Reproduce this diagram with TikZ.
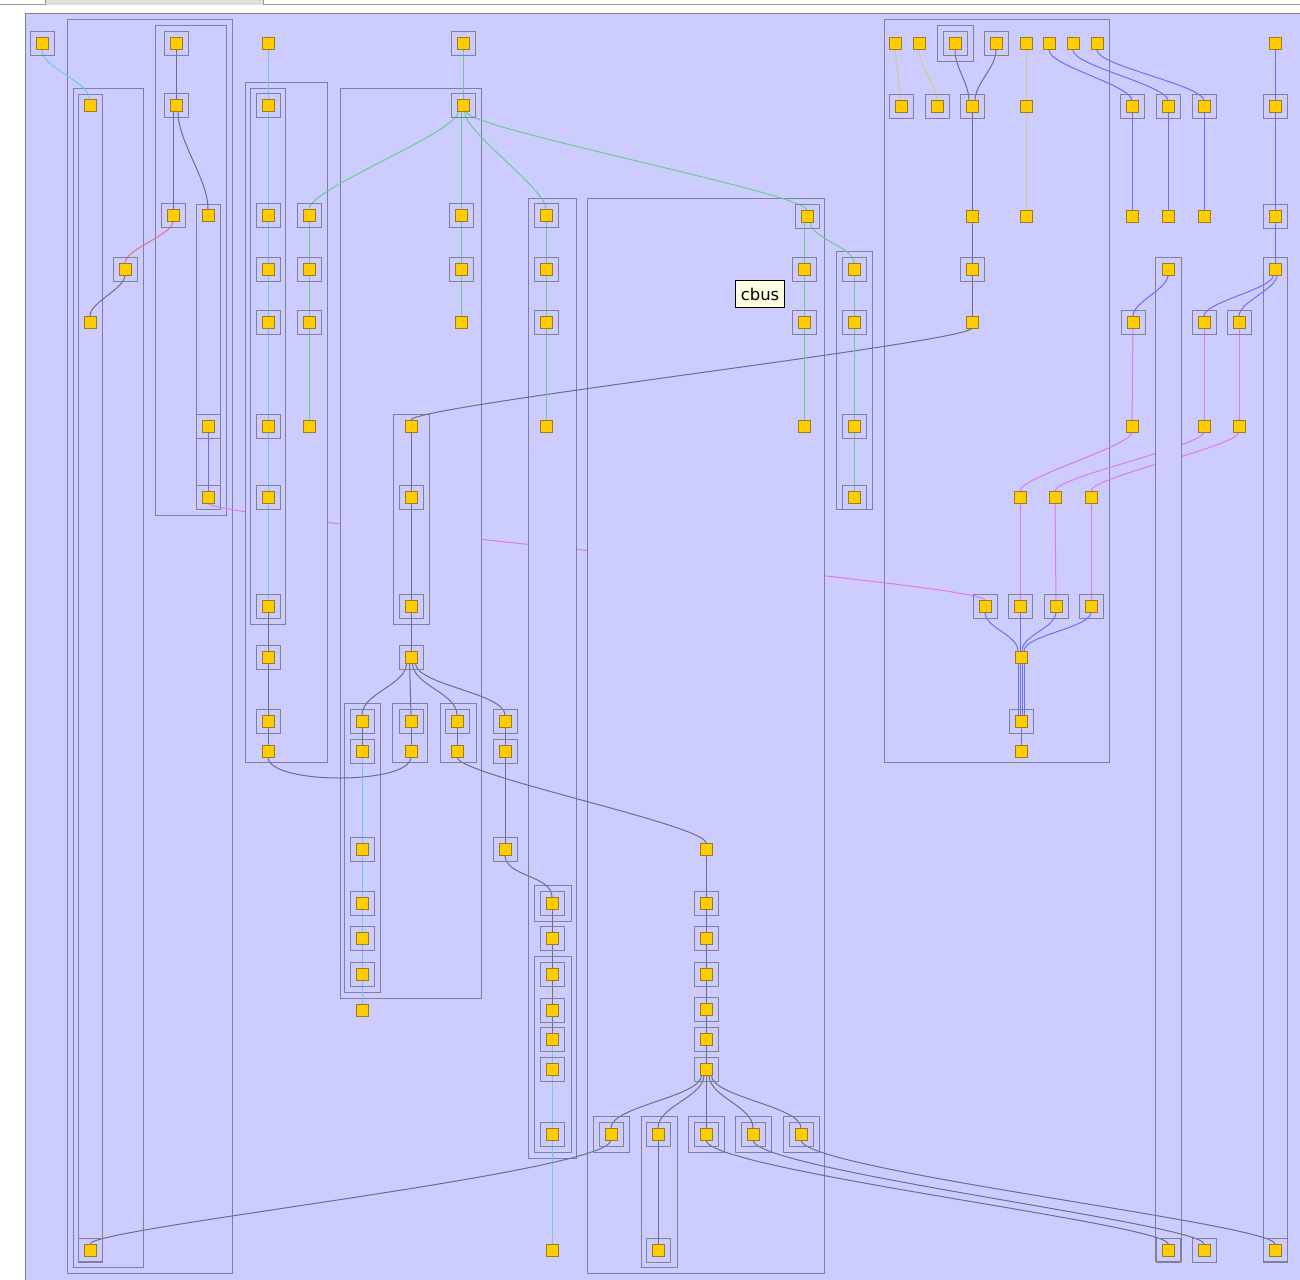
\documentclass[tikz,border=0pt]{standalone}
\usepackage{fontspec}
\newfontfamily\tipfont{DejaVu Sans}
\usetikzlibrary{positioning,calc}
\definecolor{lav}{HTML}{CCCCFF}
\definecolor{frm}{HTML}{80809A}
\definecolor{gold}{HTML}{FFCC00}
\definecolor{goldline}{HTML}{9A7D1A}
\definecolor{ed}{HTML}{6E6E88}
\definecolor{sky}{HTML}{72C6EE}
\definecolor{grn}{HTML}{6CCB8E}
\definecolor{rose}{HTML}{E0708C}
\definecolor{mag}{HTML}{DE78EE}
\definecolor{blu}{HTML}{6E6EF4}
\definecolor{kha}{HTML}{CCCC88}
\definecolor{tip}{HTML}{FFFFE1}
\pgfdeclarelayer{back}
\pgfdeclarelayer{low}
\pgfdeclarelayer{mid}
\pgfdeclarelayer{wires}
\pgfsetlayers{back,low,mid,wires,main}

\begin{document}
\begin{tikzpicture}[x=0.5pt,y=-0.5pt,
	sq/.style={draw=goldline, fill=gold, line width=0.5pt, minimum size=6pt, inner sep=0pt, outer sep=0pt},
	ring/.style={draw=frm, line width=0.5pt, minimum size=#1, inner sep=0pt, outer sep=0pt},
	fsq/.style={sq, label={[ring=12pt]center:}},
	ffsq/.style={sq, label={[ring=12pt]center:}, label={[ring=18pt]center:}},
	grp/.style={draw=frm, fill=lav, line width=0.5pt},
	wire/.style={line width=0.5pt, draw=#1},
	sp/.style={to path={.. controls +(0,#1) and +(0,-#1) .. (\tikztotarget)}},
	sp/.default=14,
	tipbox/.style={draw=black, line width=0.7pt, fill=tip, minimum width=24.5pt,
		minimum height=13.5pt, inner sep=0pt, font=\tipfont\fontsize{8.2}{9}\selectfont}
]
	\useasboundingbox (0,0) rectangle (1300,1279);
	\clip (0,0) rectangle (1300,1279);

	% left block
	\node[fsq] (l0) at (42,44) {};
	\node[sq] (l1) at (90,106) {};
	\node[fsq] (l2) at (176,44) {};
	\node[fsq] (l3) at (176,106) {};
	\node[fsq] (l4) at (173,215) {};
	\node[sq] (l5) at (208,215) {};
	\node[fsq] (l6) at (125,269) {};
	\node[sq] (l7) at (90,322) {};
	\node[fsq] (l8) at (208,426) {};
	\node[fsq] (l9) at (208,497) {};
	\node[fsq] (l10) at (90,1250) {};

	% column at 268 / 309
	\node[sq] (g0) at (268,44) {};
	\node[fsq] (g1) at (268,106) {};
	\node[fsq] (g2) at (268,215) {};
	\node[fsq] (g3) at (268,269) {};
	\node[fsq] (g4) at (268,322) {};
	\node[fsq] (g5) at (268,426) {};
	\node[fsq] (g6) at (268,497) {};
	\node[fsq] (g7) at (268,606) {};
	\node[fsq] (g8) at (268,657) {};
	\node[fsq] (g9) at (268,721) {};
	\node[sq] (g10) at (268,751) {};
	\node[fsq] (h1) at (309,215) {};
	\node[fsq] (h2) at (309,269) {};
	\node[fsq] (h3) at (309,322) {};
	\node[sq] (h4) at (309,426) {};

	% middle block
	\node[fsq] (m0) at (463,44) {};
	\node[fsq] (m1) at (463,106) {};
	\node[fsq] (m2) at (461,215) {};
	\node[fsq] (m3) at (461,269) {};
	\node[sq] (m4) at (461,322) {};
	\node[sq] (k1) at (411,426) {};
	\node[fsq] (k2) at (411,497) {};
	\node[fsq] (k3) at (411,606) {};
	\node[fsq] (k4) at (411,657) {};
	\node[fsq] (p1) at (362,721) {};
	\node[fsq] (p2) at (362,751) {};
	\node[fsq] (p3) at (362,849) {};
	\node[fsq] (p4) at (362,903) {};
	\node[fsq] (p5) at (362,938) {};
	\node[fsq] (p6) at (362,974) {};
	\node[sq] (p7) at (362,1010) {};
	\node[fsq] (q1) at (411,721) {};
	\node[sq] (q2) at (411,751) {};
	\node[fsq] (r1) at (457,721) {};
	\node[sq] (r2) at (457,751) {};
	\node[fsq] (s1) at (505,721) {};
	\node[fsq] (s2) at (505,751) {};
	\node[fsq] (s3) at (505,849) {};

	% column at 546
	\node[fsq] (i1) at (546,215) {};
	\node[fsq] (i2) at (546,269) {};
	\node[fsq] (i3) at (546,322) {};
	\node[sq] (i4) at (546,426) {};
	\node[fsq] (i5) at (552,903) {};
	\node[fsq] (i6) at (552,938) {};
	\node[fsq] (i7) at (552,974) {};
	\node[fsq] (i8) at (552,1010) {};
	\node[fsq] (i9) at (552,1039) {};
	\node[fsq] (i10) at (552,1069) {};
	\node[fsq] (i11) at (552,1134) {};
	\node[sq] (i12) at (552,1250) {};

	% wide block
	\node[fsq] (j1) at (807,216) {};
	\node[fsq] (j2) at (804,269) {};
	\node[fsq] (j3) at (804,322) {};
	\node[sq] (j4) at (804,426) {};
	\node[fsq] (t1) at (854,269) {};
	\node[fsq] (t2) at (854,322) {};
	\node[fsq] (t3) at (854,426) {};
	\node[fsq] (t4) at (854,497) {};
	\node[sq] (u0) at (706,849) {};
	\node[fsq] (u1) at (706,903) {};
	\node[fsq] (u2) at (706,938) {};
	\node[fsq] (u3) at (706,974) {};
	\node[fsq] (u4) at (706,1009) {};
	\node[fsq] (u5) at (706,1039) {};
	\node[fsq] (u6) at (706,1069) {};
	\node[ffsq] (v1) at (611,1134) {};
	\node[fsq] (v2) at (658,1134) {};
	\node[fsq] (v3) at (658,1250) {};
	\node[ffsq] (v4) at (706,1134) {};
	\node[ffsq] (v5) at (753,1134) {};
	\node[ffsq] (v6) at (801,1134) {};
	\node[tipbox] (tip) at (760,294) {cbus};

	% right block
	\node[sq] (w1) at (895,44) {};
	\node[sq] (w2) at (919,44) {};
	\node[ffsq] (w3) at (955,44) {};
	\node[fsq] (w4) at (996,44) {};
	\node[sq] (w5) at (1026,44) {};
	\node[sq] (w6) at (1049,44) {};
	\node[sq] (w7) at (1073,44) {};
	\node[sq] (w8) at (1097,44) {};
	\node[fsq] (x1) at (901,107) {};
	\node[fsq] (x2) at (937,107) {};
	\node[fsq] (x3) at (972,107) {};
	\node[sq] (x4) at (1026,107) {};
	\node[sq] (x5) at (972,216) {};
	\node[sq] (x6) at (1026,216) {};
	\node[fsq] (x7) at (972,269) {};
	\node[sq] (x8) at (972,322) {};
	\node[sq] (y1) at (1020,497) {};
	\node[sq] (y2) at (1055,497) {};
	\node[sq] (y3) at (1091,497) {};
	\node[fsq] (z1) at (985,606) {};
	\node[fsq] (z2) at (1020,606) {};
	\node[fsq] (z3) at (1056,606) {};
	\node[fsq] (z4) at (1091,606) {};
	\node[sq] (z5) at (1021,657) {};
	\node[fsq] (z6) at (1021,721) {};
	\node[sq] (z7) at (1021,751) {};

	% far right
	\node[fsq] (c1) at (1132,107) {};
	\node[fsq] (c2) at (1168,107) {};
	\node[fsq] (c3) at (1204,107) {};
	\node[sq] (c4) at (1275,44) {};
	\node[fsq] (c5) at (1275,107) {};
	\node[sq] (c6) at (1132,216) {};
	\node[sq] (c7) at (1168,216) {};
	\node[sq] (c8) at (1204,216) {};
	\node[fsq] (c9) at (1275,216) {};
	\node[sq] (d1) at (1168,269) {};
	\node[sq] (d2) at (1275,269) {};
	\node[fsq] (d3) at (1133,322) {};
	\node[fsq] (d4) at (1204,322) {};
	\node[fsq] (d5) at (1239,322) {};
	\node[sq] (d6) at (1132,426) {};
	\node[sq] (d7) at (1204,426) {};
	\node[sq] (d8) at (1239,426) {};
	\node[fsq] (e1) at (1168,1250) {};
	\node[fsq] (e2) at (1204,1250) {};
	\node[fsq] (e3) at (1275,1250) {};

	\begin{pgfonlayer}{back}
		% window strip and canvas
		\fill[white] (0,0) rectangle (1300,1279);
		\fill[black!12] (45,0) rectangle (263,5);
		\draw[black!40, line width=0.5pt] (0,4.5) -- (45,4.5) -- (45,0);
		\draw[black!40, line width=0.5pt] (263,0) -- (263,4.5) -- (1300,4.5);
		\fill[lav] (25,14) rectangle (1310,1290);
		\draw[black!50, line width=0.5pt] (25,1290) -- (25,14) -- (1310,14);
		\draw[grp] (67,20) rectangle (232,1273);
		\draw[grp] (73,89) rectangle (143,1267);
		\draw[grp] (78,95) rectangle (102,1261);
		\draw[grp] (155,26) rectangle (226,515);
		\draw[grp] (196,204) rectangle (220,509);
		\draw[grp] (884,20) rectangle (1109,762);
	\end{pgfonlayer}

	\begin{pgfonlayer}{low}
		\draw[wire=mag] (l9.south) to[sp=16] (z1.north);
		\draw[wire=mag] (d6.south) to[sp=14] (y1.north);
		\draw[wire=mag] (d7.south) to[sp=14] (y2.north);
		\draw[wire=mag] (d8.south) to[sp=14] (y3.north);
	\end{pgfonlayer}

	\begin{pgfonlayer}{mid}
		\draw[grp] (245,83) rectangle (327,762);
		\draw[grp] (250,89) rectangle (285,624);
		\draw[grp] (340,89) rectangle (481,998);
		\draw[grp] (393,414) rectangle (429,624);
		\draw[grp] (344,703) rectangle (380,992);
		\draw[grp] (392,703) rectangle (427,762);
		\draw[grp] (440,703) rectangle (476,762);
		\draw[grp] (528,198) rectangle (576,1158);
		\draw[grp] (534,885) rectangle (571,921);
		\draw[grp] (534,956) rectangle (571,1152);
		\draw[grp] (587,198) rectangle (824,1273);
		\draw[grp] (641,1116) rectangle (677,1267);
		\draw[grp] (836,251) rectangle (872,509);
		\draw[grp] (1155,257) rectangle (1181,1261);
		\draw[grp] (1263,257) rectangle (1287,1261);
	\end{pgfonlayer}

	\begin{pgfonlayer}{wires}
		% light blue
		\draw[wire=sky] (l0.south) to[sp=18] (l1.north);
		\draw[wire=sky] (g0) -- (g1) -- (g2) -- (g3) -- (g4) -- (g5) -- (g6) -- (g7);
		\draw[wire=sky] (p2) -- (p3) -- (p4) -- (p5) -- (p6) -- (p7);
		\draw[wire=sky] (i9) -- (i10) -- (i11) -- (i12);
		% dark
		\draw[wire=ed] (l2) -- (l3);
		\draw[wire=ed] ([xshift=-1.5pt]l3.south) -- ([xshift=0pt]l4.north);
		\draw[wire=ed] ([xshift=1pt]l3.south) to[sp=30] (l5.north);
		\draw[wire=rose] (l4.south) to[sp=14] (l6.north);
		\draw[wire=ed] (l6.south) to[sp=14] (l7.north);
		\draw[wire=ed] (g7) -- (g8) -- (g9) -- (g10);
		\draw[wire=ed] (q2.south) .. controls +(0,28) and +(0,28) .. (g10.south);
		\draw[wire=ed] (k1) -- (k2) -- (k3) -- (k4);
		\draw[wire=ed] ([xshift=-2.2pt]k4.south) to[sp=22] (p1.north);
		\draw[wire=ed] ([xshift=-0.7pt]k4.south) -- (q1.north);
		\draw[wire=ed] ([xshift=0.7pt]k4.south) to[sp=22] (r1.north);
		\draw[wire=ed] ([xshift=2.2pt]k4.south) to[sp=22] (s1.north);
		\draw[wire=ed] (p1) -- (p2);
		\draw[wire=ed] (q1) -- (q2);
		\draw[wire=ed] (r1) -- (r2);
		\draw[wire=ed] (s1) -- (s2) -- (s3);
		\draw[wire=ed] (r2.south) to[sp=18] (u0.north);
		\draw[wire=ed] (s3.south) to[sp=22] (i5.north);
		\draw[wire=ed] (i5) -- (i6) -- (i7) -- (i8) -- (i9);
		\draw[wire=ed] (u0) -- (u1) -- (u2) -- (u3) -- (u4) -- (u5) -- (u6);
		\draw[wire=ed] ([xshift=-2.2pt]u6.south) to[sp=22] (v1.north);
		\draw[wire=ed] ([xshift=-1pt]u6.south) to[sp=22] (v2.north);
		\draw[wire=ed] (u6) -- (v4);
		\draw[wire=ed] ([xshift=1.5pt]u6.south) to[sp=22] (v5.north);
		\draw[wire=ed] ([xshift=2.7pt]u6.south) to[sp=22] (v6.north);
		\draw[wire=ed] (v2) -- (v3);
		\draw[wire=ed] (v1.south) .. controls +(0,32) and +(0,-16) .. (l10.north);
		\draw[wire=ed] (v4.south) .. controls +(0,30) and +(0,-20) .. (e1.north);
		\draw[wire=ed] (v5.south) .. controls +(0,30) and +(0,-20) .. (e2.north);
		\draw[wire=ed] (v6.south) .. controls +(0,30) and +(0,-20) .. (e3.north);
		\draw[wire=ed] (w3.south) to[sp=18] ([xshift=-1.5pt]x3.north);
		\draw[wire=ed] (w4.south) to[sp=18] ([xshift=1.5pt]x3.north);
		\draw[wire=ed] (x3) -- (x5) -- (x7) -- (x8);
		\draw[wire=ed] (x8.south) to[sp=14] (k1.north);
		% green
		\draw[wire=grn] (m0) -- (m1);
		\draw[wire=grn] ([xshift=-2.5pt]m1.south) to[sp=20] (h1.north);
		\draw[wire=grn] ([xshift=-1pt]m1.south) -- (m2.north);
		\draw[wire=grn] ([xshift=0.8pt]m1.south) to[sp=20] (i1.north);
		\draw[wire=grn] ([xshift=1.8pt]m1.south) to[sp=16] (j1.north);
		\draw[wire=grn] (h1) -- (h2) -- (h3) -- (h4);
		\draw[wire=grn] (m2) -- (m3) -- (m4);
		\draw[wire=grn] (i1) -- (i2) -- (i3) -- (i4);
		\draw[wire=grn] ([xshift=-1.5pt]j1.south) -- (j2) -- (j3) -- (j4);
		\draw[wire=grn] ([xshift=1.5pt]j1.south) to[sp=16] (t1.north);
		\draw[wire=grn] (t1) -- (t2) -- (t3) -- (t4);
		% khaki
		\draw[wire=kha] (w1.south) -- (x1.north);
		\draw[wire=kha] (w2.south) to[sp=14] (x2.north);
		\draw[wire=kha] (w5) -- (x4) -- (x6);
		% blue
		\draw[wire=blu] (l8) -- (l9);
		\draw[wire=blu] (w6.south) to[sp=16] (c1.north);
		\draw[wire=blu] (w7.south) to[sp=16] (c2.north);
		\draw[wire=blu] (w8.south) to[sp=16] (c3.north);
		\draw[wire=blu] (c1) -- (c6);
		\draw[wire=blu] (c2) -- (c7);
		\draw[wire=blu] (c3) -- (c8);
		\draw[wire=blu] (c4) -- (c5) -- (c9) -- (d2);
		\draw[wire=blu] (d1.south) to[sp=14] (d3.north);
		\draw[wire=blu] ([xshift=-0.8pt]d2.south) to[sp=14] (d4.north);
		\draw[wire=blu] ([xshift=1pt]d2.south) to[sp=14] (d5.north);
		\draw[wire=blu] (z1.south) to[sp=16] ([xshift=-1.5pt]z5.north);
		\draw[wire=blu] (z2.south) -- ([xshift=-0.5pt]z5.north);
		\draw[wire=blu] (z3.south) to[sp=16] ([xshift=0.5pt]z5.north);
		\draw[wire=blu] (z4.south) to[sp=16] ([xshift=1.5pt]z5.north);
		\draw[wire=blu] ([xshift=-1.5pt]z5.south) -- ([xshift=-1.5pt]z6.north);
		\draw[wire=blu] ([xshift=-0.5pt]z5.south) -- ([xshift=-0.5pt]z6.north);
		\draw[wire=blu] ([xshift=0.5pt]z5.south) -- ([xshift=0.5pt]z6.north);
		\draw[wire=blu] ([xshift=1.5pt]z5.south) -- ([xshift=1.5pt]z6.north);
		\draw[wire=blu] (z6) -- (z7);
		% pink
		\draw[wire=mag] (d3) -- (d6);
		\draw[wire=mag] (d4) -- (d7);
		\draw[wire=mag] (d5) -- (d8);
		\draw[wire=mag] (y1) -- (z2);
		\draw[wire=mag] (y2) -- (z3);
		\draw[wire=mag] (y3) -- (z4);
	\end{pgfonlayer}
\end{tikzpicture}
\end{document}
